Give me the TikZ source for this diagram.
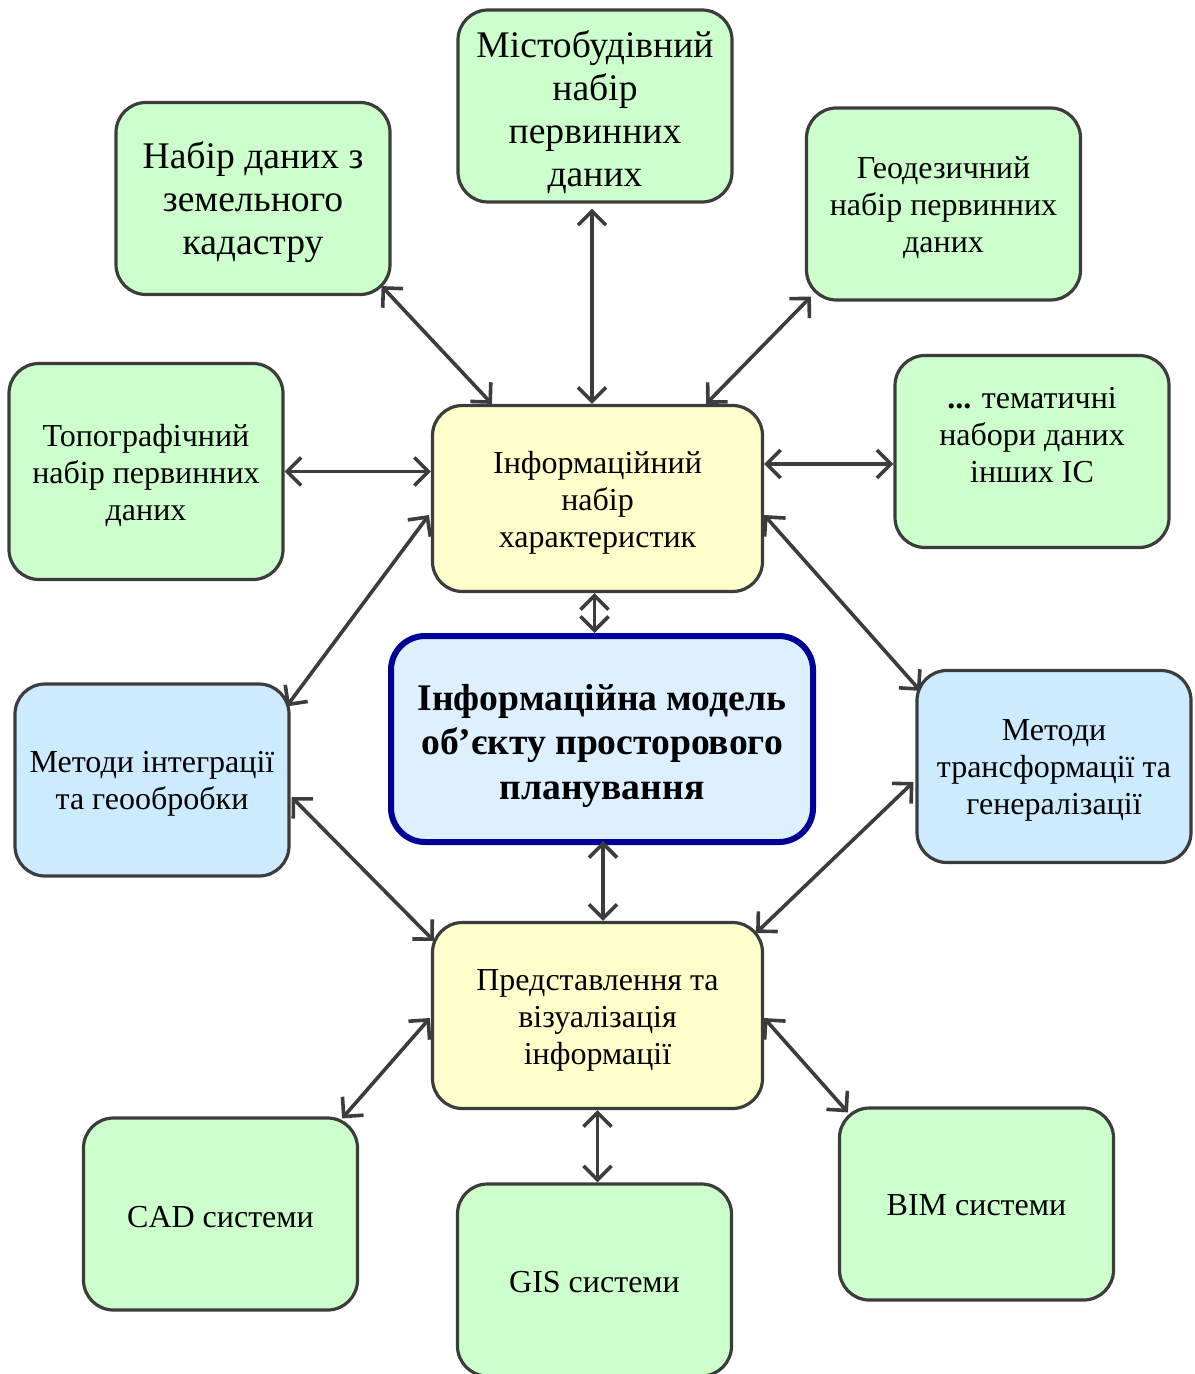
\documentclass[tikz,border=0pt]{standalone}
\usepackage{fontspec}
\setmainfont{Liberation Serif}
\usetikzlibrary{arrows.meta}
\definecolor{edgegray}{HTML}{3C3C3C}
\definecolor{greenfill}{HTML}{CCFFCC}
\definecolor{yellowfill}{HTML}{FFFFCC}
\definecolor{bluefill}{HTML}{CCEBFF}
\definecolor{corefill}{HTML}{DCF0FF}
\definecolor{coreedge}{HTML}{000099}
\tikzset{
  box/.style={draw=edgegray, line width=1.6pt, rounded corners=15pt,
    minimum width=137pt, minimum height=96pt, inner sep=0pt},
  databox/.style={box, fill=greenfill},
  hubbox/.style={box, fill=yellowfill, minimum width=165pt, minimum height=93pt},
  methodbox/.style={box, fill=bluefill},
  corebox/.style={draw=coreedge, line width=3pt, rounded corners=17pt, fill=corefill,
    minimum width=211pt, minimum height=103pt, inner sep=0pt},
  caption/.style={align=center, inner sep=1pt},
  big/.style={caption, font=\fontsize{18.8}{21.5}\selectfont},
  small/.style={caption, font=\fontsize{16}{18.5}\selectfont},
  heavy/.style={caption, font=\fontsize{18.8}{22.2}\selectfont\bfseries},
  link/.style={draw=edgegray, line width=1.8pt,
    {Straight Barb[length=7pt,width=14pt,line width=1.8pt]}-{Straight Barb[length=7pt,width=14pt,line width=1.8pt]}}
}
% a frame node #2 of style #1 at #3, with its caption #4 (style #5) set #6 px lower
\newcommand\framed[6]{%
  \node[#1] (#2) at #3 {};
  \node[#5] (#2-text) at ([shift={(0,#6)}]#2) {#4};
}
\begin{document}
\begin{tikzpicture}[x=0.5pt, y=-0.5pt]
\useasboundingbox (0,0) rectangle (1194,1374);

% data sources around the information set
\framed{databox}{kad}{(253,198.5)}{Набір даних з\\земельного\\кадастру}{big}{4}
\framed{databox}{mist}{(595,106)}{Містобудівний\\набір\\первинних\\даних}{big}{6}
\framed{databox}{geo}{(943.5,204)}{Геодезичний\\набір первинних\\даних}{small}{4}
\framed{databox, minimum height=108pt}{topo}{(146,471.5)}{Топографічний\\набір первинних\\даних}{small}{4}
\framed{databox}{them}{(1032,451.5)}{\textbf{...} тематичні\\набори даних\\інших ІС}{small}{-16}

% hubs
\framed{hubbox}{inf}{(597.5,498.5)}{Інформаційний\\набір\\характеристик}{small}{4}
\framed{hubbox}{pred}{(597.5,1015.5)}{Представлення та\\візуалізація\\інформації}{small}{5}

% core model
\framed{corebox}{model}{(602,739)}{Інформаційна модель\\об’єкту просторового\\планування}{heavy}{7}

% methods
\framed{methodbox}{intg}{(152,780)}{Методи інтеграції\\та геообробки}{small}{4}
\framed{methodbox}{trans}{(1054,766.5)}{Методи\\трансформації та\\генералізації}{small}{4}

% output systems
\framed{databox}{cad}{(220.5,1214)}{CAD системи}{small}{3}
\framed{databox}{gis}{(594.5,1280)}{GIS системи}{small}{2}
\framed{databox}{bim}{(976.5,1204)}{BIM системи}{small}{1}

% connectors
\draw[link] ([shift={(-10,-10)}]kad.south east) -- ([shift={(61,0)}]inf.north west);
\draw[link] ([shift={(-3,5)}]mist.south) -- ([shift={(-3,0)}]mist.south |- inf.north);
\draw[link] ([shift={(6,-5)}]geo.south west) -- ([shift={(-58,0)}]inf.north east);
\draw[link] (topo.east) -- (topo.east -| inf.west);
\draw[link] ([shift={(0,12.5)}]them.west) -- ([shift={(0,12.5)}]them.west -| inf.east);
\draw[link] ([shift={(-2,16.5)}]inf.west) -- ([shift={(-4,24)}]intg.north east);
\draw[link] ([shift={(0,16.5)}]inf.east) -- ([shift={(5,22)}]trans.north west);
\draw[link] ([shift={(-3,0)}]inf.south) -- ([shift={(-3,0)}]inf.south |- model.north);
\draw[link] ([shift={(1,-4)}]model.south) -- ([shift={(1,0)}]model.south |- pred.north);
\draw[link] ([shift={(1,17)}]intg.east) -- ([shift={(3,20)}]pred.north west);
\draw[link] ([shift={(-2,15.5)}]trans.west) -- ([shift={(-8,12)}]pred.north east);
\draw[link] ([shift={(-1,2.5)}]pred.west) -- ([shift={(-17,2)}]cad.north east);
\draw[link] (pred.south) -- (pred.south |- gis.north);
\draw[link] ([shift={(0,2.5)}]pred.east) -- ([shift={(10,6)}]bim.north west);
\end{tikzpicture}
\end{document}
